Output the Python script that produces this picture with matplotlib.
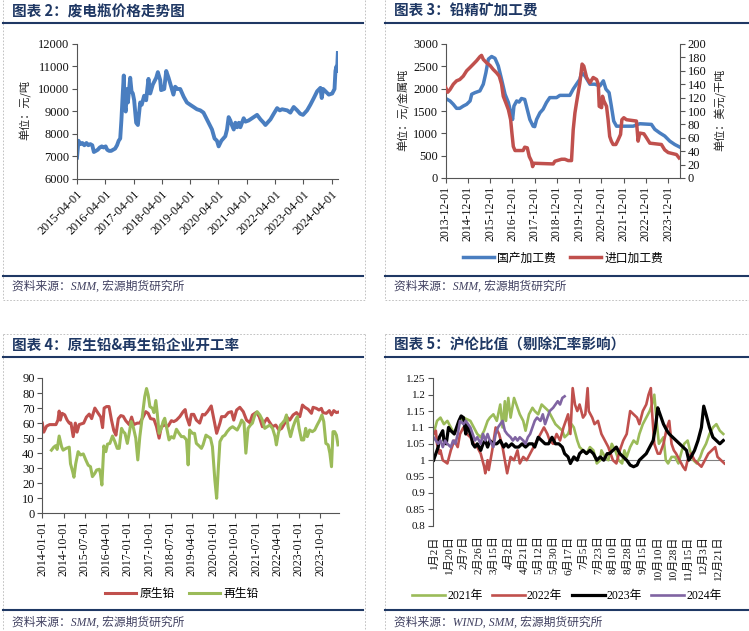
import matplotlib
matplotlib.use('Agg')
import matplotlib.pyplot as plt
from matplotlib.lines import Line2D
from matplotlib.font_manager import FontProperties
import pandas as pd
import numpy as np

CJK = 'Noto Sans CJK SC'
SERIF = ['Liberation Serif', CJK]
plt.rcParams['font.family'] = SERIF
plt.rcParams['axes.unicode_minus'] = False

# ---------------- data ----------------
# 图表2 废电瓶价格 (元/吨)
p2_dates = ["2015-04-01","2015-04-20","2015-05-15","2015-06-10","2015-07-05","2015-08-01","2015-08-25",
            "2015-09-20","2015-10-15","2015-11-05","2015-12-01","2015-12-25","2016-01-20","2016-02-15",
            "2016-03-10","2016-04-05","2016-04-25","2016-05-20","2016-06-15","2016-07-10","2016-08-05",
            "2016-08-30","2016-09-20","2016-10-10","2016-10-25","2016-11-12","2016-11-25","2016-12-05",
            "2016-12-20","2017-01-05","2017-01-17","2017-02-16","2017-03-05","2017-03-22","2017-04-08",
            "2017-05-04","2017-05-26","2017-06-25","2017-07-15","2017-08-15","2017-09-10","2017-09-25",
            "2017-10-10","2017-11-01","2017-12-05","2018-01-18","2018-02-08","2018-03-10","2018-03-22",
            "2018-05-01","2018-05-27","2018-06-26","2018-07-30","2018-08-28","2018-09-20","2018-10-20",
            "2018-11-24","2019-01-08","2019-02-18","2019-04-01","2019-05-15","2019-06-27","2019-08-10",
            "2019-09-20","2019-11-25","2020-01-08","2020-02-10","2020-03-12","2020-04-03","2020-05-08",
            "2020-06-28","2020-07-20","2020-08-10","2020-09-01","2020-09-20","2020-10-15","2020-11-05",
            "2020-11-28","2020-12-20","2021-01-08","2021-02-20","2021-03-15","2021-04-25","2021-06-08",
            "2021-08-12","2021-09-25","2021-11-05","2021-11-28","2022-02-01","2022-03-15","2022-04-28",
            "2022-06-01","2022-07-01","2022-09-05","2022-10-16","2022-11-28","2023-01-12","2023-02-20",
            "2023-03-28","2023-05-20","2023-07-01","2023-08-15","2023-09-27","2023-11-08","2023-11-25",
            "2023-12-13","2024-01-12","2024-02-24","2024-04-08","2024-05-08","2024-05-20","2024-06-01",
            "2024-06-10","2024-06-20"]
p2_vals = [6950,7700,7550,7600,7500,7600,7500,
           7550,7500,7200,7250,7300,7400,7450,
           7400,7450,7300,7250,7250,7300,7350,
           7500,7700,7800,8600,9800,10600,9300,
           9000,10000,9400,10500,9900,9800,9500,
           8500,8400,9400,9300,9700,9500,10000,
           10450,9800,10200,10500,10750,10400,9950,
           10000,10800,10500,10100,9750,10100,10000,
           10000,9650,9400,9300,9200,9100,9050,
           8950,8500,8200,7800,7700,7450,7700,
           7900,8200,8750,8600,8400,8200,8500,
           8300,8500,8300,8700,8550,8600,8700,
           8850,8650,8500,8400,8650,8900,9150,
           9050,9100,9050,8950,9200,9050,8900,
           8850,9050,9300,9600,9900,10050,9600,
           10000,9900,9750,9800,10000,10800,11000,
           10800,11600]

# 图表3 铅精矿加工费
p3_dom_dates = ["2013-12-01","2014-02-10","2014-04-05","2014-05-28","2014-07-20","2014-09-15","2014-11-10",
                "2015-01-05","2015-02-01","2015-03-25","2015-06-15","2015-08-10","2015-09-22","2015-11-01",
                "2015-12-25","2016-02-18","2016-04-12","2016-06-05","2016-08-01","2016-09-25","2016-11-05",
                "2016-12-03","2016-12-25","2017-02-08","2017-03-20","2017-04-28","2017-06-20","2017-07-18",
                "2017-09-12","2017-11-05","2017-12-01","2018-01-01","2018-02-25","2018-04-18","2018-06-12",
                "2018-08-05","2018-11-25","2019-01-18","2019-07-01","2019-08-25","2019-10-18","2019-12-12",
                "2020-01-10","2020-03-03","2020-05-25","2020-08-15","2020-11-05","2021-01-01","2021-02-12",
                "2021-04-05","2021-05-12","2021-06-20","2021-08-05","2022-05-05","2022-08-22","2023-03-01",
                "2023-04-25","2023-07-15","2023-10-05","2023-12-28","2024-03-18","2024-05-28"]
p3_dom_vals = [1780,1725,1650,1560,1560,1610,1650,
               1725,1875,1910,1950,2100,2360,2660,
               2720,2680,2510,2210,1875,1690,1460,
               1310,1610,1725,1700,1780,1760,1610,
               1310,1160,1150,1310,1460,1540,1690,
               1800,1800,1850,1850,1990,2100,2210,
               2360,2290,2100,2100,2060,2175,1990,
               1910,1610,1275,1160,1160,1215,1200,
               1090,1010,940,825,750,700]
p3_imp_dates = ["2013-12-01","2014-01-03","2014-02-10","2014-04-05","2014-05-28","2014-07-20","2014-09-15",
                "2014-11-10","2015-01-05","2015-02-28","2015-04-22","2015-06-15","2015-07-12","2015-08-10",
                "2015-10-03","2015-11-28","2016-01-20","2016-03-15","2016-04-28","2016-06-05","2016-07-03",
                "2016-08-15","2016-09-25","2016-11-01","2016-11-22","2016-12-15","2017-01-12","2017-05-25",
                "2017-06-20","2017-08-01","2017-09-03","2017-10-10","2017-10-28","2017-11-18","2018-10-01",
                "2018-10-28","2019-02-15","2019-04-10","2019-06-03","2019-07-28","2019-08-25","2019-09-22",
                "2019-10-18","2019-12-12","2020-01-18","2020-02-15","2020-04-01","2020-05-25","2020-07-18",
                "2020-09-12","2020-10-10","2020-10-25","2020-12-03","2020-12-18","2021-01-10","2021-02-22",
                "2021-03-20","2021-04-15","2021-05-12","2021-06-10","2021-07-25","2021-09-01","2021-10-10",
                "2021-11-01","2021-12-03","2022-01-15","2022-06-28","2022-07-25","2022-08-22","2022-10-28",
                "2022-12-10","2023-02-03","2023-08-12","2023-10-05","2023-12-01","2024-04-15","2024-05-28"]
p3_imp_vals = [135,128,132,140,145,147,152,
               160,165,170,175,181,183,177,
               172,168,162,157,152,140,122,
               112,102,87,67,47,41,41,
               46,45,32,25,17,22,21,
               25,28,28,26,26,72,97,
               112,142,170,167,150,142,150,
               147,140,107,105,122,115,107,
               87,62,55,50,50,57,65,
               87,90,87,85,55,67,66,
               60,52,50,42,38,35,30]

# 图表4 原生铅 & 再生铅 开工率
p4_pri_dates = ["2014-01-01","2014-01-20","2014-02-25","2014-04-05","2014-05-20","2014-06-25","2014-07-20",
                "2014-08-05","2014-08-20","2014-09-12","2014-10-15","2014-11-15","2014-12-12","2015-01-03",
                "2015-02-01","2015-02-28","2015-03-22","2015-04-18","2015-06-15","2015-07-20","2015-08-25",
                "2015-09-25","2015-11-05","2015-12-18","2016-01-20","2016-02-12","2016-03-03","2016-04-03",
                "2016-05-05","2016-06-05","2016-07-05","2016-08-01","2016-09-01","2016-10-03","2016-11-03",
                "2016-12-05","2017-01-18","2017-02-18","2017-03-18","2017-05-01","2017-06-03","2017-07-15",
                "2017-08-18","2017-09-18","2017-10-18","2017-12-01","2018-01-03","2018-02-05","2018-03-05",
                "2018-04-18","2018-06-01","2018-07-12","2018-08-12","2018-09-15","2018-10-28","2018-12-10",
                "2019-01-05","2019-01-22","2019-02-28","2019-03-25","2019-04-25","2019-05-28","2019-07-10",
                "2019-08-15","2019-09-12","2019-10-18","2019-12-05","2020-01-05","2020-02-12","2020-03-25",
                "2020-04-15","2020-05-28","2020-07-10","2020-08-20","2020-09-18","2020-10-25","2020-12-05",
                "2021-01-18","2021-03-01","2021-04-12","2021-05-15","2021-07-05","2021-08-10","2021-09-20",
                "2021-10-20","2021-11-20","2021-12-15","2022-01-28","2022-03-10","2022-04-20","2022-05-25",
                "2022-07-03","2022-07-25","2022-09-05","2022-10-18","2022-12-01","2023-01-12","2023-02-15",
                "2023-03-18","2023-04-28","2023-06-10","2023-07-01","2023-08-12","2023-09-15","2023-10-15",
                "2023-11-05","2023-12-18","2024-01-25","2024-02-22","2024-03-22","2024-04-25","2024-05-25"]
p4_pri_vals = [60,54,58,59,59,59,62,
               68,62,66.5,65.5,62,60,60,
               51,60,54,59,60,64,66,
               63,70,66.5,64,57,70,71,
               71,62,55,52,63,65,64.5,
               61.6,59,64,59,60,60,64,
               67.6,66.5,63,62.5,57.6,50,57.6,
               58.7,58,61.6,61,62,64.3,67.6,
               69,64.3,58.7,65.8,65.8,62,60,
               65.8,65.4,67.6,71.4,63.2,53.2,60,
               64.3,64.3,67,67.6,62,68.7,70.5,
               67.6,62,60.3,65.4,67.2,64.3,57.6,
               61,63.2,61,57.6,58.7,55.4,56.5,
               60,64.3,62,65.4,67,64.3,72,
               70.5,69.2,66.5,70.5,69.8,68.7,69.8,
               67,66.5,68.3,65.4,68.3,67,67.4]
p4_sec_dates = ["2014-04-28","2014-05-28","2014-06-22","2014-07-10","2014-08-05","2014-09-05","2014-09-25",
                "2014-11-01","2014-12-12","2014-12-28","2015-01-25","2015-02-10","2015-03-05","2015-04-05",
                "2015-05-05","2015-06-10","2015-07-12","2015-08-12","2015-09-10","2015-10-05","2015-11-05",
                "2015-11-28","2016-01-01","2016-01-15","2016-02-03","2016-02-28","2016-03-25","2016-04-15",
                "2016-05-15","2016-06-18","2016-07-18","2016-08-18","2016-09-12","2016-10-12","2016-11-03",
                "2016-11-25","2016-12-25","2017-01-18","2017-02-12","2017-03-10","2017-04-12","2017-05-08",
                "2017-06-03","2017-07-05","2017-08-05","2017-08-28","2017-09-18","2017-10-10","2017-11-12",
                "2017-12-01","2017-12-25","2018-01-12","2018-02-05","2018-03-05","2018-03-28","2018-04-18",
                "2018-05-10","2018-06-12","2018-07-12","2018-08-12","2018-09-15","2018-10-18","2018-11-18",
                "2018-12-18","2019-01-22","2019-02-12","2019-03-03","2019-04-08","2019-05-05","2019-05-28",
                "2019-07-03","2019-08-01","2019-08-22","2019-09-28","2019-10-25","2019-11-25","2019-12-20",
                "2020-01-20","2020-02-12","2020-03-03","2020-03-25","2020-04-28","2020-05-28","2020-06-25",
                "2020-08-01","2020-09-03","2020-10-03","2020-11-01","2020-12-05","2020-12-28","2021-01-28",
                "2021-02-20","2021-03-20","2021-04-20","2021-05-15","2021-06-15","2021-07-15","2021-08-18",
                "2021-09-20","2021-10-20","2021-11-20","2021-12-25","2022-01-28","2022-03-01","2022-03-18",
                "2022-04-12","2022-05-10","2022-06-03","2022-07-03","2022-07-25","2022-08-15","2022-09-15",
                "2022-10-18","2022-11-18","2022-12-12","2023-01-03","2023-02-03","2023-03-03","2023-03-28",
                "2023-04-18","2023-05-18","2023-06-22","2023-07-22","2023-08-22","2023-09-25","2023-10-22",
                "2023-11-15","2023-12-12","2024-01-10","2024-02-01","2024-02-22","2024-03-12","2024-04-03",
                "2024-04-25","2024-05-15"]
p4_sec_vals = [42,44,45,42.5,51.4,44.3,42,
               43.2,44,33,27.7,24,33,41,
               38.8,39.5,35.5,32,31,24.4,26.6,
               28.8,29.3,26.6,18.8,44.8,41,46,
               46.5,51.4,47.7,43.2,43.2,56.5,54.3,
               53.2,46.5,53.2,61,57.6,50,35.5,
               51,64.3,77.6,83,78.7,71,69.8,
               67,75,66.5,53.2,56.5,61,63.2,
               57.6,48.8,51,50,55.9,53.2,51,
               51,48.8,32.2,55.4,53.2,53.2,46.5,
               44.8,43.2,45.5,52,51,50,44.3,
               22.2,10,28.8,47.7,51,52,54.3,
               56.5,57.6,56.5,55.4,58.7,62,60,
               40,56.5,58.7,60,65.4,67.6,65.4,
               62,56.5,57.6,58.7,56.5,51,45.5,
               53.2,58.7,60,62,65.4,57.6,51,
               57.6,62,64.3,56.5,48.8,48.8,56.5,
               51,55.4,54.3,55.4,58.7,62,65.4,
               61,46.5,45.5,40,31,54.3,54.3,
               52,45.5]

# 图表5 沪伦比值 (交易日序号, 比值)
p5_labels = ["1月2日","1月20日","2月7日","2月26日","3月15日","4月2日","4月21日","5月12日","5月30日",
             "6月17日","7月5日","7月23日","8月10日","8月28日","9月15日","10月10日","10月28日",
             "11月15日","12月3日","12月21日"]
p5_years = ["2021年", "2022年", "2023年", "2024年"]
d21 = [0,3,6,9,12,15,18,21,23,26,29,32,35,38,41,44,47,49,52,55,58,60,62,63,65,67,70,73,75,78,80,83,86,88,91,
       94,97,100,103,106,109,112,114,117,120,122,125,127,130,133,136,139,142,145,146,149,152,155,158,161,164,
       166,168,171,174,177,179,182,185,188,190,192,194,196,198,200,202,204,207,210,213,216,218,221,223,226,
       229,232,234,237,240,243,246,249,252]
v21 = [1.08,1.12,1.13,1.11,1.12,1.10,1.08,1.10,1.12,1.13,1.125,1.12,1.10,1.08,1.07,1.09,1.12,1.13,1.14,1.12,
       1.17,1.10,1.18,1.12,1.19,1.13,1.19,1.16,1.14,1.12,1.09,1.14,1.16,1.15,1.14,1.17,1.16,1.15,1.13,1.11,
       1.10,1.09,1.07,1.08,1.11,1.10,1.06,1.04,1.03,1.02,1.04,1.03,0.99,1.00,1.03,1.01,1.00,1.05,1.03,1.00,
       0.99,1.03,1.01,1.04,1.06,1.05,1.08,1.11,1.13,1.15,1.17,1.20,1.12,1.05,1.06,1.07,1.00,0.99,1.01,1.01,
       0.99,1.03,1.05,1.06,1.03,1.00,0.99,1.01,1.03,1.05,1.08,1.10,1.11,1.09,1.08]
d22 = [0,2,3,5,6,8,12,15,18,21,23,26,29,32,35,38,41,44,45,47,48,51,54,57,60,62,64,67,70,73,75,78,81,84,87,90,
       93,96,99,101,104,107,110,113,115,117,119,121,123,125,127,130,132,134,135,138,140,143,146,149,152,154,
       156,159,162,165,168,171,174,177,179,182,185,187,189,190,192,195,197,200,203,205,207,209,211,214,217,
       219,221,224,227,230,233,236,239,242,245,247,250,253]
v22 = [1.08,1.09,1.05,1.02,1.03,1.00,0.99,1.03,1.06,1.04,1.08,1.10,1.08,1.07,1.05,1.04,1.02,0.98,0.96,1.00,
       0.97,1.03,1.10,1.08,1.04,1.00,0.96,1.01,1.00,1.03,0.99,1.01,1.00,1.02,1.04,1.06,1.08,1.10,1.08,1.06,
       1.05,1.08,1.06,1.10,1.12,1.14,1.08,1.22,1.17,1.15,1.17,1.13,1.14,1.22,1.15,1.13,1.11,1.12,1.08,1.06,
       1.04,1.02,1.00,0.99,1.03,1.06,1.08,1.15,1.14,1.13,1.11,1.15,1.17,1.20,1.22,1.15,1.05,1.02,1.02,1.05,
       1.10,1.12,1.05,1.03,1.02,1.00,0.98,0.97,1.00,1.02,1.00,0.99,0.98,1.00,1.02,1.03,1.04,1.01,1.00,0.99]
d23 = [0,2,4,5,8,9,11,13,15,18,20,22,24,26,28,29,31,33,34,36,38,41,43,45,47,49,52,55,58,61,63,65,68,71,74,77,
       80,83,86,88,91,94,97,100,103,106,109,112,114,117,119,122,125,127,130,133,136,139,142,145,148,151,153,
       156,159,162,165,168,171,174,177,179,182,185,188,191,193,195,197,200,203,205,208,211,214,217,220,222,
       224,227,230,233,235,237,240,243,246,249,252]
v23 = [1.00,1.02,1.04,1.07,1.09,1.06,1.05,1.10,1.09,1.08,1.10,1.12,1.135,1.13,1.08,1.11,1.09,1.07,1.05,1.04,
       1.05,1.03,1.05,1.06,1.04,1.06,1.05,1.05,1.06,1.04,1.05,1.04,1.05,1.04,1.04,1.05,1.04,1.05,1.05,1.04,
       1.07,1.06,1.05,1.05,1.07,1.05,1.05,1.04,1.02,1.01,0.99,1.01,1.00,1.02,1.03,1.02,1.03,1.02,1.00,1.01,
       1.00,1.02,1.02,1.03,1.04,1.02,1.01,1.00,0.985,0.98,0.985,1.00,1.01,1.02,1.04,1.06,1.10,1.16,1.14,1.11,
       1.09,1.08,1.07,1.06,1.05,1.04,1.03,1.00,1.01,1.03,1.06,1.10,1.165,1.14,1.10,1.07,1.06,1.05,1.06]
d24 = [0,2,4,6,8,10,12,15,17,19,21,23,26,28,30,32,34,36,38,41,43,45,47,49,52,54,56,58,60,62,64,67,69,71,73,
       75,78,80,82,84,86,88,90,93,95,97,99,101,104,106,108,110,112,114]
v24 = [1.07,1.06,1.05,1.06,1.04,1.06,1.05,1.04,1.06,1.05,1.08,1.12,1.11,1.12,1.11,1.10,1.08,1.06,1.07,1.05,
       1.08,1.06,1.08,1.06,1.04,1.08,1.10,1.11,1.12,1.09,1.08,1.07,1.06,1.07,1.06,1.07,1.06,1.05,1.07,1.08,
       1.10,1.12,1.13,1.12,1.14,1.11,1.13,1.15,1.16,1.17,1.18,1.17,1.19,1.195]

# ---------------- styling ----------------
W, H = 749, 631
fig = plt.figure(figsize=(W / 100, H / 100), dpi=100)

NAVY = '#1F3864'
BLUE = '#4A7EC0'
RED = '#C0504D'
GREEN = '#9BBB59'
PURPLE = '#8064A2'
AXC = '#555555'
SRC_C = '#404060'


def fx(x):
    return x / W


def fy(y):
    return 1 - y / H


def hline(x0, x1, y, **kw):
    fig.add_artist(Line2D([fx(x0), fx(x1)], [fy(y), fy(y)], transform=fig.transFigure, **kw))


def vline(x, y0, y1, **kw):
    fig.add_artist(Line2D([fx(x), fx(x)], [fy(y0), fy(y1)], transform=fig.transFigure, **kw))


def add_ax(l, t, r, b):
    return fig.add_axes([fx(l), fy(b), (r - l) / W, (b - t) / H])


dot = dict(color='#b8b8b8', lw=0.6, linestyle=(0, (2, 2)))
navy = dict(color=NAVY, lw=1.5)

# frames
for (x0, x1, ytop, ytl, ybl, ybot, title, src, ysrc, ytitle) in [
        (3, 365, 0, 22.5, 276, 300, '图表 2：废电瓶价格走势图', '资料来源：SMM, 宏源期货研究所', 287, 11),
        (385, 749, 0, 22.5, 276, 300, '图表 3：铅精矿加工费', '资料来源：SMM, 宏源期货研究所', 287, 11),
        (3, 365, 334, 357, 610, 631, '图表 4：原生铅&再生铅企业开工率', '资料来源：SMM, 宏源期货研究所', 623, 345),
        (385, 749, 334, 357, 610, 631, '图表 5：沪伦比值（剔除汇率影响）', '资料来源：WIND, SMM, 宏源期货研究所', 623, 345)]:
    vline(x0, ytop, ybot, **dot)
    vline(x1, ytop, ybot, **dot)
    if ytop > 0:
        hline(x0, x1, ytop, **dot)
    if ybot < H:
        hline(x0, x1, ybot, **dot)
    hline(x0, x1 - (2 if x1 < 700 else 0), ytl, **navy)
    hline(x0, x1 - (2 if x1 < 700 else 0), ybl, **navy)
    fig.text(fx(x0 + 9), fy(ytitle), title, family=CJK, weight='bold', color=NAVY,
             fontsize=10.5, ha='left', va='center')
    fig.text(fx(x0 + 9), fy(ysrc), src, family=SERIF, style='italic', color=SRC_C,
             fontsize=8.5, ha='left', va='center')


def style_axes(ax, labelsize=9):
    for s in ['top', 'right']:
        ax.spines[s].set_visible(False)
    for s in ['left', 'bottom']:
        ax.spines[s].set_color(AXC)
        ax.spines[s].set_linewidth(0.8)
    ax.tick_params(direction='out', length=3.5, width=0.8, color=AXC, labelsize=labelsize,
                   labelcolor='#111111', pad=2)


# ---------------- 图表 2 ----------------
ax2 = add_ax(77, 44, 338, 179)
d2 = pd.to_datetime(p2_dates)
ax2.plot(d2, p2_vals, color=BLUE, lw=2.8, solid_joinstyle='round')
ax2.set_ylim(6000, 12000)
ax2.set_yticks(np.arange(6000, 12001, 1000))
ax2.set_xlim(pd.Timestamp('2015-04-01'), pd.Timestamp('2024-06-22'))
t2 = pd.date_range('2015-04-01', periods=10, freq='12MS')
ax2.set_xticks(t2)
ax2.set_xticklabels([t.strftime('%Y-%m-%d') for t in t2], rotation=45, ha='right',
                    rotation_mode='anchor')
style_axes(ax2, 9)
ax2.tick_params(axis='x', labelsize=8.8, pad=3)
fig.text(fx(25), fy(110), '单位：元/吨', family=CJK, fontsize=8, rotation=90,
         ha='center', va='center', color='#222222')

# ---------------- 图表 3 ----------------
ax3 = add_ax(445.7, 44, 680, 178)
ax3b = ax3.twinx()
ld, = ax3.plot(pd.to_datetime(p3_dom_dates), p3_dom_vals, color=BLUE, lw=2.5,
               solid_joinstyle='round', label='国产加工费')
li, = ax3b.plot(pd.to_datetime(p3_imp_dates), p3_imp_vals, color=RED, lw=2.5,
                solid_joinstyle='round', label='进口加工费')
ax3.set_ylim(0, 3000)
ax3.set_yticks(np.arange(0, 3001, 500))
ax3b.set_ylim(0, 200)
ax3b.set_yticks(np.arange(0, 201, 20))
ax3.set_xlim(pd.Timestamp('2013-12-01'), pd.Timestamp('2024-06-12'))
t3 = pd.date_range('2013-12-01', periods=11, freq='12MS')
ax3.set_xticks(t3)
ax3.set_xticklabels([t.strftime('%Y-%m-%d') for t in t3], rotation=90)
style_axes(ax3, 9)
ax3.tick_params(axis='x', labelsize=8.5)
for s in ['top', 'left', 'bottom']:
    ax3b.spines[s].set_visible(False)
ax3b.spines['right'].set_color(AXC)
ax3b.spines['right'].set_linewidth(0.8)
ax3b.tick_params(direction='out', length=3.5, width=0.8, color=AXC, labelsize=9,
                 labelcolor='#111111', pad=2)
fig.text(fx(403), fy(110), '单位：元/金属吨', family=CJK, fontsize=8, rotation=90,
         ha='center', va='center', color='#222222')
fig.text(fx(720), fy(110), '单位：美元/干吨', family=CJK, fontsize=8, rotation=90,
         ha='center', va='center', color='#222222')
fig.legend([ld, li], ['国产加工费', '进口加工费'], loc='center', bbox_to_anchor=(fx(563), fy(258)),
           ncol=2, frameon=False, prop=FontProperties(family=CJK, size=8.5),
           handlelength=2.6, handletextpad=0.3, columnspacing=1.2)

# ---------------- 图表 4 ----------------
ax4 = add_ax(42.3, 378, 339, 513.3)
lp, = ax4.plot(pd.to_datetime(p4_pri_dates), p4_pri_vals, color=RED, lw=2.2,
               solid_joinstyle='round')
ls, = ax4.plot(pd.to_datetime(p4_sec_dates), p4_sec_vals, color=GREEN, lw=2.2,
               solid_joinstyle='round')
ax4.set_ylim(0, 90)
ax4.set_yticks(np.arange(0, 91, 10))
ax4.set_xlim(pd.Timestamp('2014-01-01'), pd.Timestamp('2024-05-28'))
t4 = pd.date_range('2014-01-01', periods=14, freq='9MS')
ax4.set_xticks(t4)
ax4.set_xticklabels([t.strftime('%Y-%m-%d') for t in t4], rotation=90)
style_axes(ax4, 9)
ax4.tick_params(axis='x', labelsize=8.5)
fig.legend([lp, ls], ['原生铅', '再生铅'], loc='center', bbox_to_anchor=(fx(182), fy(594)),
           ncol=2, frameon=False, prop=FontProperties(family=CJK, size=8.5),
           handlelength=2.6, handletextpad=0.3, columnspacing=1.2)

# ---------------- 图表 5 ----------------
ax5 = add_ax(433, 378.3, 725, 525.7)
h21, = ax5.plot(d21, v21, color=GREEN, lw=1.9, solid_joinstyle='round')
h22, = ax5.plot(d22, v22, color=RED, lw=1.9, solid_joinstyle='round')
h23, = ax5.plot(d23, v23, color='black', lw=2.3, solid_joinstyle='round')
h24, = ax5.plot(d24, v24, color=PURPLE, lw=1.9, solid_joinstyle='round')
ax5.set_ylim(0.8, 1.25)
yt5 = np.round(np.arange(0.8, 1.2501, 0.05), 2)
ax5.set_yticks(yt5)
ax5.set_yticklabels([f'{v:g}' for v in yt5])
ax5.set_xlim(-0.5, 253.5)
step5 = 13
ax5.set_xticks(np.arange(len(p5_labels)) * step5)
ax5.set_xticklabels(p5_labels, rotation=90, family=SERIF)
style_axes(ax5, 8)
ax5.spines['bottom'].set_visible(False)
ax5.tick_params(axis='x', length=0, labelsize=8, pad=7)
ax5.axhline(1.0, color='#808080', lw=0.8, zorder=0)
fig.legend([h21, h22, h23, h24], p5_years, loc='center', bbox_to_anchor=(fx(567), fy(596)),
           ncol=4, frameon=False, prop=FontProperties(family=SERIF, size=8.5),
           handlelength=2.8, handletextpad=0.15, columnspacing=0.8)

fig.savefig('out.png', dpi=100)
